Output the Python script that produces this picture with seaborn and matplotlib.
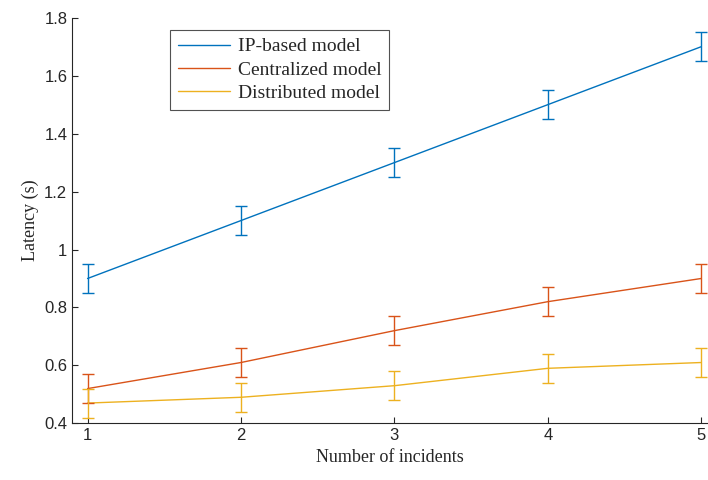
import matplotlib
matplotlib.use("Agg")
import matplotlib.pyplot as plt
import numpy as np
import pandas as pd
import seaborn as sns

incidents = [1, 2, 3, 4, 5]
ip_based = [0.90, 1.10, 1.30, 1.50, 1.70]
centralized = [0.52, 0.61, 0.72, 0.82, 0.90]
distributed = [0.47, 0.49, 0.53, 0.59, 0.61]
err = [0.05, 0.05, 0.05, 0.05, 0.05]
names = ["IP-based model", "Centralized model", "Distributed model"]
colors = ["#0072BD", "#D95319", "#EDB120"]

sns.set_style("ticks")
plt.rcParams['font.family'] = ['Liberation Sans', 'DejaVu Sans']

df = pd.DataFrame({
    "x": incidents * 3,
    "y": ip_based + centralized + distributed,
    "model": [names[0]] * 5 + [names[1]] * 5 + [names[2]] * 5,
})

fig = plt.figure(figsize=(7.08, 4.8), dpi=100)
ax = fig.add_axes([0.102, 0.118, 0.897, 0.845])

sns.lineplot(data=df, x="x", y="y", hue="model", palette=colors,
             linewidth=1.0, ax=ax)
for vals, c in zip([ip_based, centralized, distributed], colors):
    ax.errorbar(incidents, vals, yerr=err, fmt="none", ecolor=c,
                elinewidth=1.0, capsize=4, capthick=1.0)

ax.set_xlim(0.9, 5.04)
ax.set_ylim(0.4, 1.8)
ax.set_xticks(incidents)
ax.set_yticks([0.4, 0.6, 0.8, 1.0, 1.2, 1.4, 1.6, 1.8])
ax.set_yticklabels(["0.4", "0.6", "0.8", "1", "1.2", "1.4", "1.6", "1.8"])
ax.tick_params(labelsize=12, direction="in", length=4, color="#262626",
               labelcolor="#262626", width=0.8)
for s in ["top", "right"]:
    ax.spines[s].set_visible(False)
for s in ["left", "bottom"]:
    ax.spines[s].set_color("#262626")
    ax.spines[s].set_linewidth(0.8)

serif = ['Liberation Serif', 'DejaVu Serif']
ax.set_xlabel("Number of incidents", fontsize=13, family=serif, color="#262626")
ax.set_ylabel("Latency (s)", fontsize=13, family=serif, color="#262626")

leg = ax.legend(loc="upper left", bbox_to_anchor=(0.154, 0.97), frameon=True,
                fancybox=False, edgecolor="#262626",
                prop={'family': serif, 'size': 14}, handlelength=2.7,
                borderaxespad=0.0, labelspacing=0.3, handletextpad=0.4,
                borderpad=0.4)
leg.get_frame().set_linewidth(0.8)

fig.savefig("out.png", dpi=100)
